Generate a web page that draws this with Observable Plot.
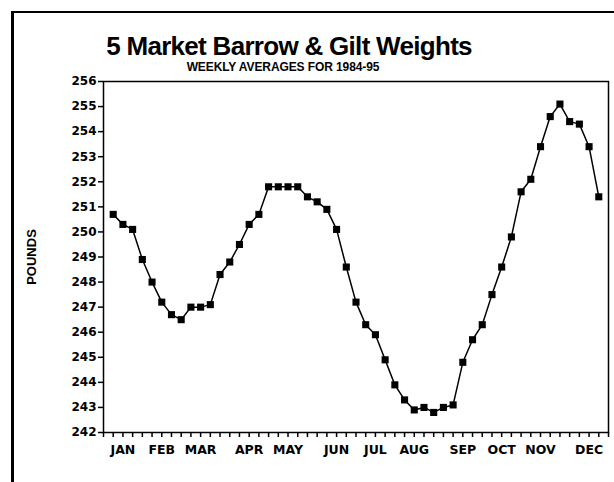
<!DOCTYPE html>
<html>
<head>
<meta charset="utf-8">
<script src="https://cdn.jsdelivr.net/npm/d3@7"></script>
<script src="https://cdn.jsdelivr.net/npm/@observablehq/plot@0.6"></script>
<style>
  html, body { margin: 0; padding: 0; background: #fff; overflow: hidden; }
  #wrap { position: relative; width: 614px; height: 482px; overflow: hidden; }
  #border { position: absolute; left: 11px; top: 11px; width: 700px; height: 700px;
            border-left: 3px solid #000; border-top: 2px solid #000; box-sizing: border-box; }
  #title { position: absolute; left: 0; top: 33px; width: 578px; text-align: center;
           font-family: "Liberation Sans", Arial, sans-serif; font-weight: bold;
           font-size: 26px; line-height: 26px; letter-spacing: -0.7px; color: #000; }
  #subtitle { position: absolute; left: 0; top: 61px; width: 566px; text-align: center;
              font-family: "Liberation Sans", Arial, sans-serif; font-weight: bold;
              font-size: 12px; line-height: 12px; letter-spacing: -0.1px; color: #000; }
  #chart { position: absolute; left: 0; top: 0; }
</style>
</head>
<body>
<div id="wrap">
  <div id="border"></div>
  <div id="chart"></div>
  <div id="title">5 Market Barrow &amp; Gilt Weights</div>
  <div id="subtitle">WEEKLY AVERAGES FOR 1984-95</div>
</div>
<script>
// Week numbers (1..51) and weekly average weights (pounds)
const weeks = d3.range(1, 52);
const pounds = [
  250.7, 250.3, 250.1, 248.9, 248.0, 247.2, 246.7, 246.5, 247.0, 247.0,
  247.1, 248.3, 248.8, 249.5, 250.3, 250.7, 251.8, 251.8, 251.8, 251.8,
  251.4, 251.2, 250.9, 250.1, 248.6, 247.2, 246.3, 245.9, 244.9, 243.9,
  243.3, 242.9, 243.0, 242.8, 243.0, 243.1, 244.8, 245.7, 246.3, 247.5,
  248.6, 249.8, 251.6, 252.1, 253.4, 254.6, 255.1, 254.4, 254.3, 253.4,
  251.4
];
// Month tick labels and their week positions
const months = ["JAN","FEB","MAR","APR","MAY","JUN","JUL","AUG","SEP","OCT","NOV","DEC"];
const monthWeeks = [2, 6, 10, 15, 19, 24, 28, 32, 37, 41, 45, 50];
const yTicks = d3.range(242, 257);
const weekTicks = d3.range(0, 53);

const data = weeks.map((w, i) => ({week: w, lbs: pounds[i]}));

const tickFont = "DejaVu Sans, sans-serif";

const chart = Plot.plot({
  width: 614,
  height: 482,
  marginLeft: 103,
  marginRight: 6,
  marginTop: 81,
  marginBottom: 50,
  x: {domain: [0, 52]},
  y: {domain: [242, 256]},
  style: {background: "transparent", color: "#000", fontFamily: tickFont},
  marks: [
    Plot.frame({stroke: "#000", strokeWidth: 1.5}),
    Plot.axisY({ticks: yTicks, tickSize: 5, tickPadding: 2, tickFormat: d => String(d),
                fontSize: 12, fontWeight: "bold", strokeWidth: 1.5, label: null}),
    Plot.axisX({ticks: weekTicks, tickSize: 5, tickFormat: () => "", strokeWidth: 1.5, label: null}),
    Plot.axisX({ticks: monthWeeks, tickSize: 0, tickPadding: 12.5,
                tickFormat: d => months[monthWeeks.indexOf(d)],
                fontSize: 12.5, fontWeight: "bold", label: null}),
    Plot.text(["POUNDS"], {frameAnchor: "left", dx: -72, rotate: -90, textAnchor: "middle",
                           fontSize: 13, fontWeight: "bold", fontFamily: "Liberation Sans, Arial, sans-serif"}),
    Plot.line(data, {x: "week", y: "lbs", stroke: "#000", strokeWidth: 1.5}),
    Plot.dot(data, {x: "week", y: "lbs", symbol: "square", r: 4, fill: "#000", stroke: null})
  ]
});
document.getElementById("chart").appendChild(chart);
</script>
</body>
</html>
